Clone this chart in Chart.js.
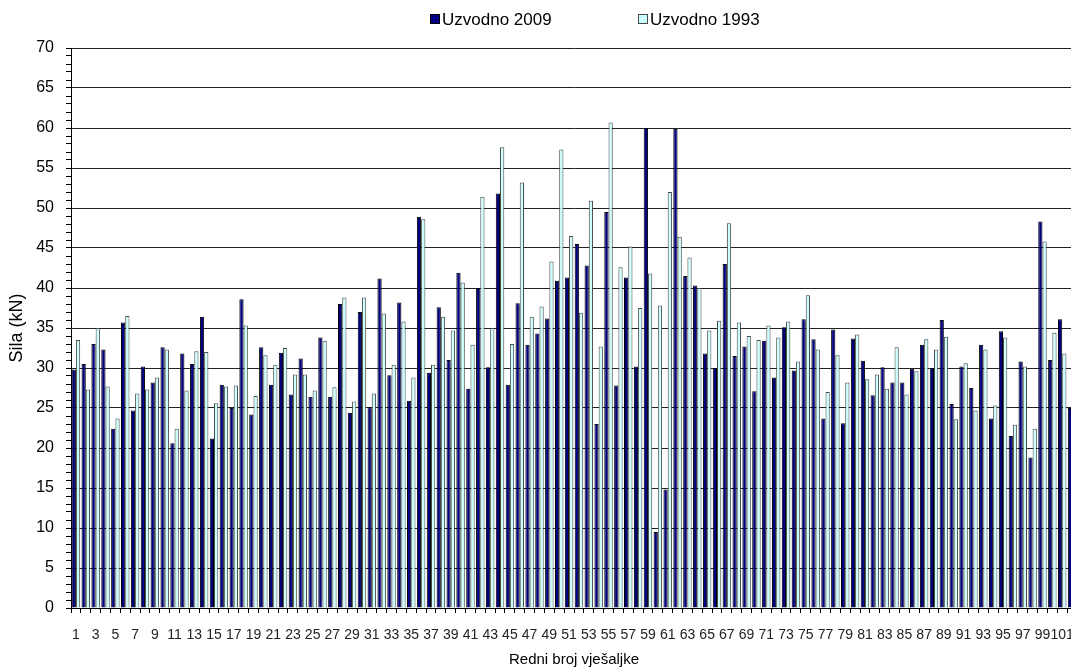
<!DOCTYPE html>
<html>
<head>
<meta charset="utf-8">
<title>Sila u vješaljkama</title>
<script src="https://cdn.jsdelivr.net/npm/chart.js@4/dist/chart.umd.min.js"></script>
<style>
  html, body { margin: 0; padding: 0; background: #fff; overflow: hidden; }
  #okvir { width: 1100px; height: 669px; }
</style>
</head>
<body>
<div id="okvir"><canvas id="grafSila" width="1100" height="669"></canvas></div>
<script>
// ================================
//   PODACI (ocitano sa slike)
// ================================
const vjesaljke = [];
for (let i = 1; i <= 102; i++) vjesaljke.push(String(i));

const uzvodno2009 = [
  29.8, 30.5, 33.0, 32.3, 22.4, 35.7, 24.7, 30.2, 28.2, 32.6,
  20.6, 31.8, 30.5, 36.4, 21.2, 27.9, 25.0, 38.6, 24.2, 32.6,
  27.9, 31.9, 26.7, 31.2, 26.4, 33.8, 26.4, 38.0, 24.4, 37.0,
  25.1, 41.2, 29.1, 38.2, 25.9, 48.9, 29.4, 37.6, 31.0, 41.9,
  27.4, 40.0, 30.1, 51.8, 27.9, 38.1, 32.9, 34.3, 36.2, 40.9,
  41.3, 45.5, 42.8, 23.0, 49.5, 27.8, 41.3, 30.2, 60.0, 9.5,
  14.8, 59.9, 41.5, 40.3, 31.8, 30.0, 43.0, 31.5, 32.7, 27.1,
  33.4, 28.8, 35.1, 29.7, 36.1, 33.6, 23.7, 34.8, 23.1, 33.7,
  30.9, 26.6, 30.1, 28.2, 28.2, 29.9, 32.9, 30.0, 36.0, 25.5,
  30.2, 27.5, 32.9, 23.7, 34.6, 21.5, 30.8, 18.8, 48.3, 31.0,
  36.1, 25.0
];

const uzvodno1993 = [
  33.5, 27.3, 35.0, 27.7, 23.7, 36.5, 26.8, 27.3, 28.8, 32.3,
  22.4, 27.2, 32.1, 32.0, 25.6, 27.7, 27.8, 35.3, 26.5, 31.6,
  30.4, 32.5, 29.2, 29.2, 27.2, 33.4, 27.6, 38.8, 25.8, 38.8,
  26.8, 36.8, 30.4, 35.8, 28.8, 48.6, 30.4, 36.4, 34.7, 40.7,
  32.9, 51.4, 35.0, 57.6, 33.0, 53.2, 36.4, 37.7, 43.3, 57.3,
  46.5, 36.9, 50.9, 32.7, 60.7, 42.6, 45.2, 37.5, 41.8, 37.8,
  52.0, 46.4, 43.8, 40.0, 34.7, 35.9, 48.1, 35.7, 34.0, 33.5,
  35.3, 33.8, 35.8, 30.8, 39.1, 32.3, 27.0, 31.6, 28.2, 34.2,
  28.6, 29.2, 27.4, 32.6, 26.7, 29.6, 33.6, 32.3, 33.9, 23.6,
  30.6, 24.7, 32.3, 25.3, 33.8, 22.9, 30.2, 22.4, 45.8, 34.4,
  31.8, null
];

const FONT = '"Liberation Sans", Arial, sans-serif';

// ================================
//   LEGENDA (crta se na vrhu)
// ================================
const legendaPlugin = {
  id: "legenda",
  afterDraw(chart) {
    const ctx = chart.ctx;
    const pozicije = [430, 638];
    ctx.save();
    ctx.font = "17px " + FONT;
    ctx.textBaseline = "middle";
    chart.data.datasets.forEach((ds, i) => {
      const x = pozicije[i];
      ctx.fillStyle = ds.backgroundColor;
      ctx.fillRect(x, 14, 10, 10);
      ctx.strokeStyle = ds.borderColor;
      ctx.lineWidth = 1;
      ctx.strokeRect(x + 0.5, 14.5, 9, 9);
      ctx.fillStyle = "#000";
      ctx.fillText(ds.label, x + 12, 20);
    });
    ctx.restore();
  }
};

// ================================
//   GRAF
// ================================
new Chart(document.getElementById("grafSila"), {
  type: "bar",
  data: {
    labels: vjesaljke,
    datasets: [
      { label: "Uzvodno 2009", data: uzvodno2009, backgroundColor: "#000080", borderColor: "#000000", borderWidth: 1 },
      { label: "Uzvodno 1993", data: uzvodno1993, backgroundColor: "#CCFFFF", borderColor: "#4a4a4a", borderWidth: 1 }
    ]
  },
  options: {
    responsive: false,
    animation: false,
    layout: { padding: { top: 48, right: 23, left: 0, bottom: 0 } },
    datasets: { bar: { categoryPercentage: 0.86, barPercentage: 1 } },
    plugins: { legend: { display: false }, tooltip: { enabled: false } },
    scales: {
      x: {
        grid: { display: true, drawOnChartArea: false, offset: true, color: "#000", tickLength: 5 },
        border: { color: "#000" },
        ticks: {
          autoSkip: false, maxRotation: 0, minRotation: 0, padding: 14,
          color: "#222", font: { family: FONT, size: 14 },
          callback: (v, i) => (i % 2 === 0 ? vjesaljke[i] : "")
        },
        title: { display: true, text: "Redni broj vješaljke", color: "#000", font: { family: FONT, size: 15 }, padding: { top: 0, bottom: 0 } },
        afterFit: (s) => { s.height = 61; }
      },
      y: {
        min: 0, max: 70,
        grid: {
          color: (c) => (c.tick && c.tick.value % 5 === 0 ? "#222" : "rgba(0,0,0,0)"),
          tickColor: "#000", tickLength: 5
        },
        border: { color: "#000" },
        ticks: {
          stepSize: 1, autoSkip: false, padding: 12,
          color: "#000", font: { family: FONT, size: 16 },
          callback: (v) => (v % 5 === 0 ? v : "")
        },
        title: { display: true, text: "Sila (kN)", color: "#000", font: { family: FONT, size: 18 }, padding: { top: 6, bottom: 0 } },
        afterFit: (s) => { s.width = 71; }
      }
    }
  },
  plugins: [legendaPlugin]
});
</script>
</body>
</html>
